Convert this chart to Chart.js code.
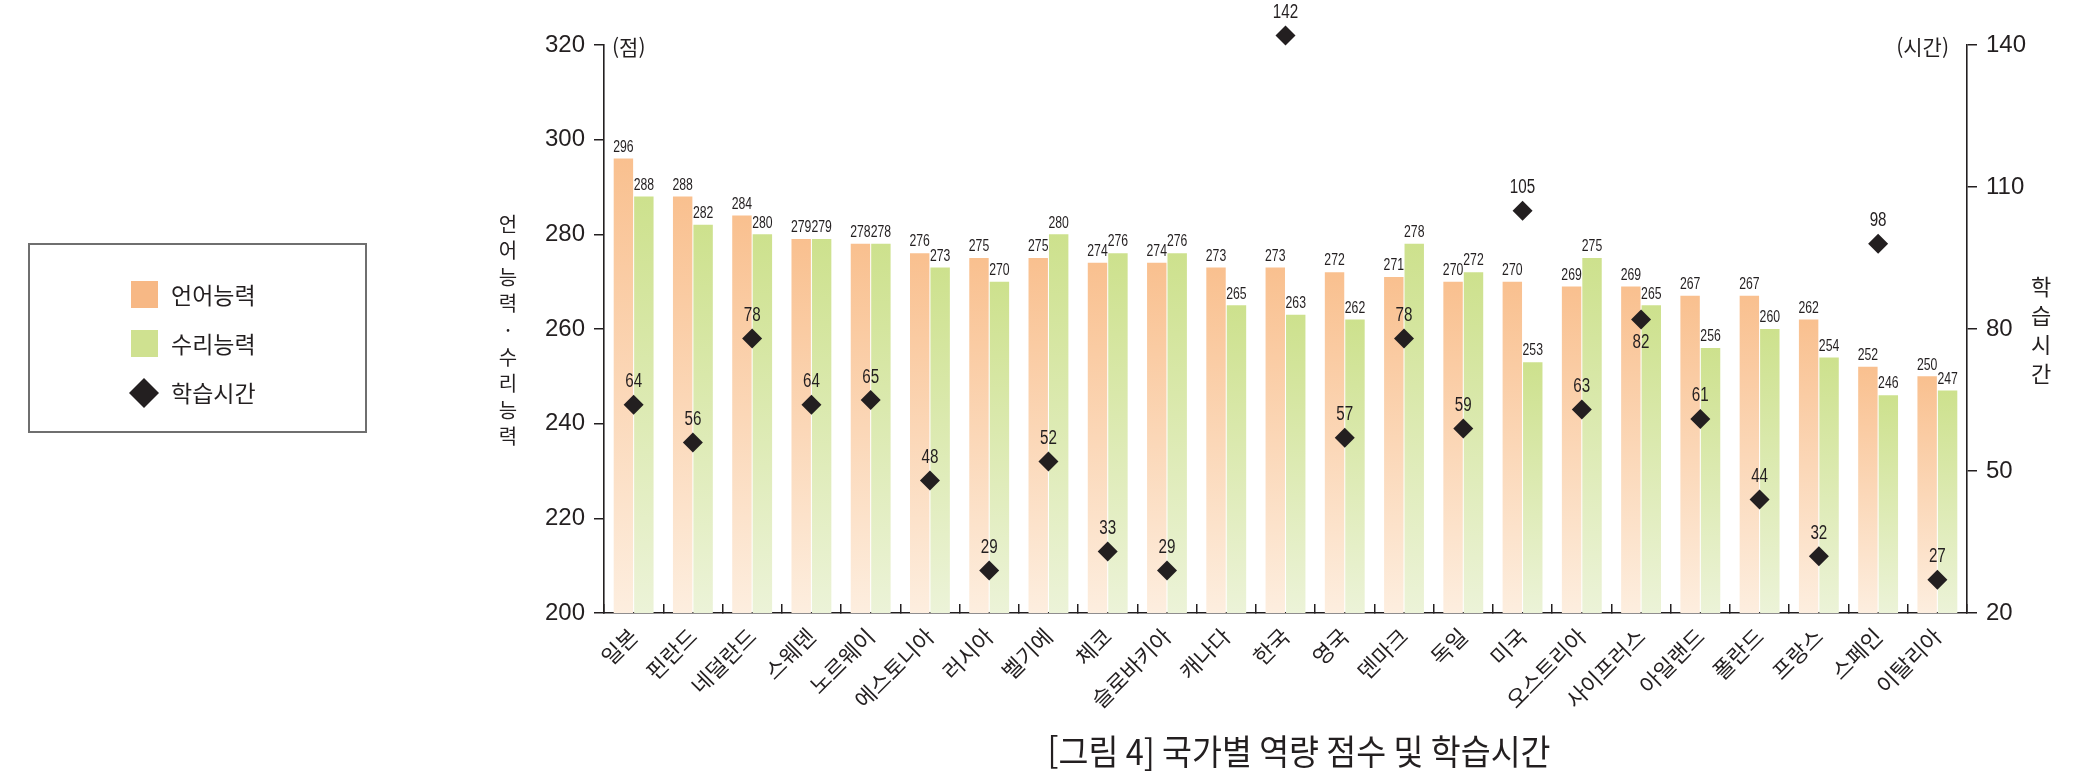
<!DOCTYPE html>
<html lang="ko">
<head>
<meta charset="utf-8">
<title>국가별 역량 점수 및 학습시간</title>
<script src="https://cdn.jsdelivr.net/npm/chart.js@4.4.1/dist/chart.umd.min.js"></script>
<style>
  html, body { margin: 0; padding: 0; background: #fff; }
  #wrap { width: 2085px; height: 783px; }
</style>
</head>
<body>
<div id="wrap"><canvas id="chart" width="2085" height="783"></canvas></div>
<script>
// Data
const countries = [
  "일본", "핀란드", "네덜란드", "스웨덴", "노르웨이", "에스토니아", "러시아", "벨기에",
  "체코", "슬로바키아", "캐나다", "한국", "영국", "덴마크", "독일", "미국",
  "오스트리아", "사이프러스", "아일랜드", "폴란드", "프랑스", "스페인", "이탈리아",
];
const verbalScores = [296, 288, 284, 279, 278, 276, 275, 275, 274, 274, 273, 273, 272, 271, 270, 270, 269, 269, 267, 267, 262, 252, 250];
const mathScores = [288, 282, 280, 279, 278, 273, 270, 280, 276, 276, 265, 263, 262, 278, 272, 253, 275, 265, 256, 260, 254, 246, 247];
// no study-time marker is shown for Canada
const studyHours = [64, 56, 78, 64, 65, 48, 29, 52, 33, 29, null, 142, 57, 78, 59, 105, 63, 82, 61, 44, 32, 98, 27];
const scoreTicks = [200, 220, 240, 260, 280, 300, 320];
const hourTicks = [20, 50, 80, 110, 140];

const INK = "#231f20";
const KR = '"Noto Sans CJK KR", "Noto Sans", sans-serif';
const NUM = '"Liberation Sans", Arial, sans-serif';

const ORANGE = { top: "#f9c08f", bottom: "#fdeedf", swatch: "#f7b885" };
const GREEN = { top: "#cde18d", bottom: "#ecf3d8", swatch: "#cfe190" };

// markers whose value sits under the diamond instead of above it
const labelBelow = ["사이프러스"];

// each bar fades from its own top down to the baseline
function barGradient(colors) {
  return (ctx) => {
    const chart = ctx.chart;
    const area = chart.chartArea;
    if (!area || !ctx.parsed) return colors.top;
    const top = chart.scales.y.getPixelForValue(ctx.parsed.y);
    const g = chart.ctx.createLinearGradient(0, top, 0, area.bottom);
    g.addColorStop(0, colors.top);
    g.addColorStop(1, colors.bottom);
    return g;
  };
}

function squeezedText(ctx, text, x, y, font, sx, align, baseline) {
  ctx.save();
  ctx.font = font;
  ctx.fillStyle = INK;
  ctx.textAlign = align;
  ctx.textBaseline = baseline;
  ctx.translate(x, y);
  ctx.scale(sx, 1);
  ctx.fillText(text, 0, 0);
  ctx.restore();
}

const valueLabels = {
  id: "valueLabels",
  afterDatasetsDraw(chart) {
    const ctx = chart.ctx;
    chart.data.datasets.forEach((ds, di) => {
      const meta = chart.getDatasetMeta(di);
      meta.data.forEach((el, i) => {
        const v = ds.data[i];
        if (v == null) return;
        if (meta.type === "bar") {
          squeezedText(ctx, String(v), el.x, el.y - 3, `17px ${NUM}`, 0.72, "center", "bottom");
        } else if (labelBelow.includes(countries[i])) {
          squeezedText(ctx, String(v), el.x, el.y + 13, `20px ${NUM}`, 0.76, "center", "top");
        } else {
          squeezedText(ctx, String(v), el.x, el.y - 13, `20px ${NUM}`, 0.76, "center", "bottom");
        }
      });
    });
  },
};

const decorations = {
  id: "decorations",
  afterDraw(chart) {
    const ctx = chart.ctx;
    const area = chart.chartArea;
    ctx.save();
    ctx.fillStyle = INK;

    // unit marks at the top of both axes
    ctx.font = `21px ${KR}`;
    ctx.textBaseline = "middle";
    ctx.textAlign = "left";
    ctx.fillText("(점)", area.left + 8, area.top + 2);
    ctx.textAlign = "right";
    ctx.fillText("(시간)", area.right - 18, area.top + 2);

    // vertical axis titles, one syllable per line
    ctx.textAlign = "center";
    ctx.font = `20px ${KR}`;
    const leftTitle = "언어능력·수리능력".split("");
    leftTitle.forEach((ch, i) => ctx.fillText(ch, 508, 224 + i * 26.6));
    ctx.font = `22px ${KR}`;
    "학습시간".split("").forEach((ch, i) => ctx.fillText(ch, 2041, 287 + i * 29));

    // legend box
    ctx.strokeStyle = "#6f6f6f";
    ctx.lineWidth = 2;
    ctx.strokeRect(29, 244, 337, 188);
    const swatches = [ORANGE.swatch, GREEN.swatch];
    ctx.font = `23px ${KR}`;
    ctx.textAlign = "left";
    chart.data.datasets.forEach((ds, i) => {
      const cy = 295 + i * 49;
      if (ds.type === "line") {
        ctx.beginPath();
        ctx.moveTo(144, cy - 15);
        ctx.lineTo(159, cy);
        ctx.lineTo(144, cy + 15);
        ctx.lineTo(129, cy);
        ctx.closePath();
        ctx.fillStyle = INK;
        ctx.fill();
      } else {
        ctx.fillStyle = swatches[i];
        ctx.fillRect(131, cy - 14, 27, 27);
      }
      ctx.fillStyle = INK;
      ctx.fillText(ds.label, 171, cy);
    });

    // figure caption
    ctx.save();
    ctx.font = `35px ${KR}`;
    ctx.textAlign = "center";
    ctx.translate(1299, 752);
    ctx.scale(0.93, 1);
    ctx.fillText("[그림 4] 국가별 역량 점수 및 학습시간", 0, 0);
    ctx.restore();

    ctx.restore();
  },
};

new Chart(document.getElementById("chart"), {
  type: "bar",
  data: {
    labels: countries,
    datasets: [
      {
        label: "언어능력",
        data: verbalScores,
        yAxisID: "y",
        backgroundColor: barGradient(ORANGE),
        categoryPercentage: 0.69,
        barPercentage: 0.95,
        order: 1,
      },
      {
        label: "수리능력",
        data: mathScores,
        yAxisID: "y",
        backgroundColor: barGradient(GREEN),
        categoryPercentage: 0.69,
        barPercentage: 0.95,
        order: 1,
      },
      {
        type: "line",
        label: "학습시간",
        data: studyHours,
        yAxisID: "y1",
        showLine: false,
        pointStyle: "rectRot",
        pointRadius: 10,
        pointBackgroundColor: INK,
        pointBorderColor: INK,
        pointBorderWidth: 0,
        clip: false,
        order: 0,
      },
    ],
  },
  options: {
    responsive: false,
    animation: false,
    events: [],
    layout: { padding: { top: 45, bottom: 0, left: 0, right: 0 } },
    plugins: {
      legend: { display: false },
      tooltip: { enabled: false },
    },
    scales: {
      x: {
        grid: { drawOnChartArea: false, tickLength: -9, color: INK, lineWidth: 1.5 },
        border: { color: INK, width: 1.6 },
        ticks: {
          color: INK,
          font: { family: KR, size: 22 },
          minRotation: 45,
          maxRotation: 45,
          autoSkip: false,
          padding: 19,
        },
        afterFit: (s) => { s.height = 170; },
      },
      y: {
        position: "left",
        min: 200,
        max: 320,
        afterBuildTicks: (s) => { s.ticks = scoreTicks.map((v) => ({ value: v })); },
        grid: { drawOnChartArea: false, tickLength: 10, color: INK, lineWidth: 1.5 },
        border: { color: INK, width: 1.6 },
        ticks: { color: INK, font: { family: NUM, size: 24 }, padding: 9 },
        afterFit: (s) => { s.width = 604; },
      },
      y1: {
        position: "right",
        min: 20,
        max: 140,
        afterBuildTicks: (s) => { s.ticks = hourTicks.map((v) => ({ value: v })); },
        grid: { drawOnChartArea: false, tickLength: 10, color: INK, lineWidth: 1.5 },
        border: { color: INK, width: 1.6 },
        ticks: { color: INK, font: { family: NUM, size: 24 }, padding: 9 },
        afterFit: (s) => { s.width = 118; },
      },
    },
  },
  plugins: [valueLabels, decorations],
});
</script>
</body>
</html>
